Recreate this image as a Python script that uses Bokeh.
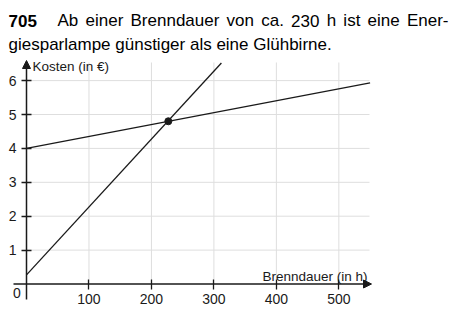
from bokeh.plotting import figure
from bokeh.models import Range1d, LinearAxis, FixedTicker, Arrow, NormalHead
from bokeh.embed import file_html
from bokeh.resources import INLINE
from bokeh.core.properties import value

# ---------------- data ----------------
hours_esl = [0, 550]          # Energiesparlampe
cost_esl = [4.0, 5.93]
hours_bulb = [0, 312]         # Glühbirne
cost_bulb = [0.27, 6.52]
break_even_h = [227]
break_even_cost = [4.8]
x_ticks = [100, 200, 300, 400, 500]
y_ticks = [1, 2, 3, 4, 5, 6]
title_number = "705"
title_line1 = "Ab einer Brenndauer von ca. 230 h ist eine Ener-"
title_line2 = "giesparlampe günstiger als eine Glühbirne."
x_label = "Brenndauer (in h)"
y_label = "Kosten (in €)"
origin_label = "0"

# ---------------- layout helpers ----------------
W, H = 449, 310
X0_PX, Y0_PX = 26.0, 283.5     # pixel position of the origin
SX, SY = 0.6247, 33.9          # pixels per data unit


def xd(px):
    return (px - X0_PX) / SX


def yd(py):
    return (Y0_PX - py) / SY


FONT = "Liberation Sans"
INK = "#1a1a1a"

p = figure(width=W, height=H, output_backend="svg", toolbar_location=None,
           x_range=Range1d(xd(0), xd(W)), y_range=Range1d(yd(H), yd(0)),
           min_border=0, x_axis_type=None, y_axis_type=None)
p.outline_line_color = None
p.background_fill_color = "white"
p.border_fill_color = "white"

# grid
grid_top = yd(62)
grid_right = xd(369)
p.segment(x0=x_ticks, y0=[0] * len(x_ticks), x1=x_ticks, y1=[grid_top] * len(x_ticks),
          line_color="#dedede", line_width=1)
p.segment(x0=[0] * len(y_ticks), y0=y_ticks, x1=[grid_right] * len(y_ticks), y1=y_ticks,
          line_color="#dedede", line_width=1)

# axes (ticks + labels) fixed at the origin
common = dict(axis_line_color=None, major_tick_in=5, major_tick_out=5,
              major_tick_line_color=INK, major_tick_line_width=1.3,
              minor_tick_line_color=None,
              major_label_text_font=FONT, major_label_text_font_size="14px",
              major_label_text_color=INK, major_label_standoff=5)
xa = LinearAxis(fixed_location=0, ticker=FixedTicker(ticks=x_ticks), **common)
ya = LinearAxis(fixed_location=0, ticker=FixedTicker(ticks=y_ticks), **common)
p.add_layout(xa, "below")
p.add_layout(ya, "left")

# axis lines with arrow heads
p.add_layout(Arrow(x_start=xd(13), y_start=0, x_end=xd(371), y_end=0,
                   line_color=INK, line_width=1.5,
                   end=NormalHead(size=8, fill_color=INK, line_color=INK, line_width=1)))
p.add_layout(Arrow(x_start=0, y_start=yd(299), x_end=0, y_end=yd(60),
                   line_color=INK, line_width=1.5,
                   end=NormalHead(size=8, fill_color=INK, line_color=INK, line_width=1)))

# cost lines
p.line(hours_esl, cost_esl, line_color=INK, line_width=1.3)
p.line(hours_bulb, cost_bulb, line_color=INK, line_width=1.3)
p.scatter(break_even_h, break_even_cost, size=7, fill_color=INK, line_color=INK)

# axis labels
p.text(x=[xd(32)], y=[yd(66)], text=[y_label], text_font=value(FONT),
       text_font_size="13.5px", text_color=INK, text_baseline="alphabetic", text_align="left")
p.text(x=[xd(262)], y=[yd(275.5)], text=[x_label], text_font=value(FONT),
       text_font_size="13.5px", text_color=INK, text_baseline="alphabetic", text_align="left")
p.text(x=[xd(16.5)], y=[yd(292.5)], text=[origin_label], text_font=value(FONT),
       text_font_size="14px", text_color=INK, text_baseline="middle", text_align="center")

# title (justified first line)
ARIAL = {"A": 667, "B": 667, "E": 667, "a": 556, "b": 556, "c": 500, "d": 556, "e": 556,
         "h": 556, "i": 222, "n": 556, "o": 556, "r": 333, "s": 500, "t": 278, "u": 556,
         "v": 500, ".": 278, "-": 333, "0": 556, "2": 556, "3": 556}
TSIZE = 17
words = title_line1.split(" ")
widths = [sum(ARIAL.get(c, 556) for c in w) * TSIZE / 1000 for w in words]
left_px, right_px = 57, 448
gap = (right_px - left_px - sum(widths)) / (len(words) - 1)
xs_px = []
cur = left_px
for w in widths:
    xs_px.append(cur)
    cur += w + gap
p.text(x=[xd(v) for v in xs_px], y=[yd(20)] * len(words), text=words,
       text_font=value(FONT), text_font_size=f"{TSIZE}px", text_color="black",
       text_baseline="alphabetic", text_align="left")
p.text(x=[xd(8)], y=[yd(20)], text=[title_number], text_font=value(FONT),
       text_font_size=f"{TSIZE}px", text_font_style="bold", text_color="black",
       text_baseline="alphabetic", text_align="left")
p.text(x=[xd(8)], y=[yd(44)], text=[title_line2], text_font=value(FONT),
       text_font_size=f"{TSIZE}px", text_color="black",
       text_baseline="alphabetic", text_align="left")

open("out.html", "w").write(file_html(p, INLINE))
